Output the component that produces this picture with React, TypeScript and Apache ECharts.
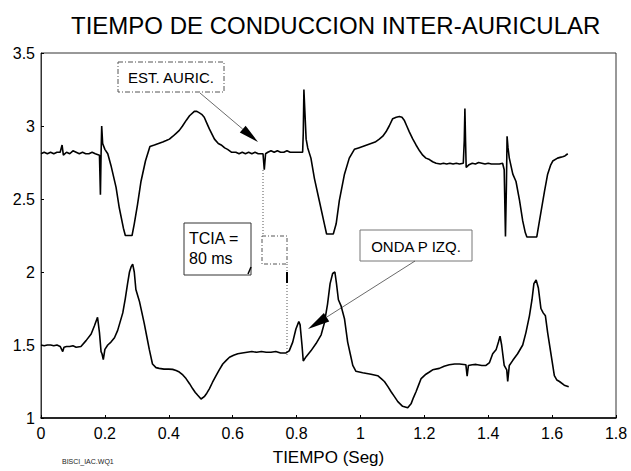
import React, { useEffect, useRef } from "react";
import * as echarts from "echarts";

const titleText = "TIEMPO DE CONDUCCION INTER-AURICULAR";
const xAxisName = "TIEMPO (Seg)";
const fileTag = "BISCI_IAC.WQ1";
const xTicks = [0, 1.8, 0.2];
const yTicks = [1, 3.5, 0.5];

// Upper trace: atrial stimulation channel [time s, value]
const upperTrace: number[][] = [
  [0,2.81],[0.01,2.82],[0.02,2.81],[0.03,2.82],[0.04,2.81],[0.05,2.82],[0.06,2.82],[0.066,2.87],[0.07,2.80],[0.08,2.82],
  [0.09,2.81],[0.10,2.83],[0.11,2.82],[0.12,2.81],[0.13,2.82],[0.14,2.81],[0.15,2.81],[0.16,2.82],[0.17,2.81],[0.183,2.80],
  [0.186,2.53],[0.188,2.80],[0.190,3.00],[0.193,2.88],[0.200,2.84],[0.209,2.81],[0.219,2.73],[0.235,2.58],[0.245,2.44],[0.258,2.30],
  [0.264,2.25],[0.285,2.25],[0.292,2.33],[0.302,2.46],[0.313,2.62],[0.327,2.76],[0.341,2.86],[0.355,2.87],[0.368,2.88],[0.381,2.89],
  [0.392,2.90],[0.402,2.91],[0.413,2.93],[0.423,2.95],[0.433,2.97],[0.443,3.00],[0.455,3.04],[0.465,3.07],[0.480,3.10],[0.488,3.10],
  [0.496,3.09],[0.503,3.08],[0.511,3.06],[0.519,3.02],[0.527,2.98],[0.543,2.91],[0.555,2.88],[0.564,2.87],[0.575,2.85],[0.584,2.84],
  [0.597,2.82],[0.61,2.82],[0.62,2.81],[0.63,2.82],[0.64,2.81],[0.65,2.82],[0.66,2.81],[0.67,2.82],[0.68,2.81],[0.695,2.81],
  [0.699,2.70],[0.703,2.81],[0.71,2.82],[0.72,2.83],[0.73,2.82],[0.74,2.83],[0.75,2.82],[0.76,2.82],[0.77,2.83],[0.78,2.82],
  [0.79,2.82],[0.80,2.82],[0.819,2.82],[0.821,2.95],[0.823,3.25],[0.826,3.10],[0.830,2.91],[0.835,2.85],[0.845,2.78],[0.856,2.64],
  [0.871,2.49],[0.887,2.33],[0.894,2.26],[0.915,2.26],[0.924,2.33],[0.934,2.49],[0.950,2.67],[0.965,2.78],[0.981,2.84],[0.994,2.85],
  [1.007,2.86],[1.02,2.87],[1.033,2.88],[1.046,2.89],[1.059,2.91],[1.070,2.93],[1.080,2.96],[1.090,3.00],[1.101,3.05],[1.112,3.06],
  [1.122,3.065],[1.130,3.06],[1.137,3.04],[1.145,3.00],[1.153,2.96],[1.164,2.91],[1.174,2.87],[1.185,2.83],[1.195,2.80],[1.205,2.78],
  [1.216,2.77],[1.226,2.755],[1.237,2.745],[1.25,2.74],[1.26,2.745],[1.27,2.74],[1.28,2.745],[1.29,2.74],[1.30,2.745],[1.31,2.74],
  [1.322,2.745],[1.325,2.90],[1.327,3.12],[1.329,2.90],[1.331,2.716],[1.34,2.735],[1.35,2.745],[1.36,2.74],[1.37,2.75],[1.38,2.745],
  [1.39,2.74],[1.40,2.745],[1.41,2.74],[1.42,2.74],[1.435,2.74],[1.445,2.745],[1.450,2.70],[1.454,2.243],[1.457,2.60],[1.459,2.93],
  [1.462,2.85],[1.466,2.78],[1.477,2.67],[1.487,2.62],[1.498,2.49],[1.508,2.35],[1.516,2.27],[1.521,2.24],[1.552,2.24],[1.562,2.37],
  [1.576,2.55],[1.586,2.67],[1.595,2.73],[1.602,2.76],[1.617,2.78],[1.625,2.785],[1.633,2.79],[1.640,2.795],[1.649,2.81]
];

// Lower trace: left P wave channel [time s, value]
const lowerTrace: number[][] = [
  [0,1.50],[0.01,1.495],[0.02,1.50],[0.03,1.50],[0.04,1.495],[0.05,1.50],[0.06,1.49],[0.068,1.455],[0.072,1.485],[0.08,1.49],
  [0.09,1.49],[0.10,1.495],[0.11,1.485],[0.125,1.49],[0.141,1.53],[0.157,1.575],[0.167,1.63],[0.177,1.69],[0.183,1.585],[0.188,1.455],
  [0.191,1.44],[0.195,1.40],[0.200,1.47],[0.209,1.50],[0.219,1.52],[0.230,1.55],[0.240,1.60],[0.248,1.66],[0.256,1.72],[0.264,1.82],
  [0.271,1.92],[0.277,2.00],[0.282,2.035],[0.287,2.054],[0.292,2.00],[0.297,1.88],[0.308,1.80],[0.315,1.73],[0.323,1.65],[0.331,1.56],
  [0.339,1.47],[0.349,1.37],[0.360,1.345],[0.370,1.34],[0.385,1.335],[0.400,1.335],[0.412,1.333],[0.423,1.325],[0.433,1.315],[0.444,1.295],
  [0.454,1.27],[0.465,1.235],[0.475,1.20],[0.483,1.175],[0.490,1.157],[0.501,1.13],[0.511,1.146],[0.519,1.17],[0.527,1.20],[0.537,1.245],
  [0.548,1.29],[0.558,1.33],[0.569,1.37],[0.580,1.395],[0.590,1.416],[0.603,1.43],[0.616,1.44],[0.630,1.445],[0.645,1.45],[0.66,1.455],
  [0.675,1.45],[0.69,1.455],[0.705,1.45],[0.72,1.45],[0.735,1.455],[0.75,1.445],[0.767,1.446],[0.777,1.46],[0.788,1.52],[0.798,1.61],
  [0.807,1.66],[0.811,1.64],[0.817,1.50],[0.821,1.39],[0.830,1.42],[0.845,1.46],[0.861,1.51],[0.877,1.57],[0.887,1.65],[0.897,1.78],
  [0.905,1.92],[0.913,1.99],[0.920,2.00],[0.925,1.92],[0.931,1.81],[0.939,1.77],[0.950,1.68],[0.960,1.52],[0.968,1.44],[0.976,1.36],
  [0.986,1.32],[1.007,1.31],[1.02,1.305],[1.033,1.30],[1.054,1.29],[1.065,1.27],[1.075,1.25],[1.086,1.215],[1.096,1.18],[1.107,1.145],
  [1.117,1.112],[1.132,1.08],[1.148,1.07],[1.159,1.10],[1.166,1.14],[1.174,1.18],[1.182,1.225],[1.190,1.27],[1.205,1.30],[1.216,1.315],
  [1.226,1.33],[1.247,1.34],[1.262,1.355],[1.278,1.365],[1.295,1.37],[1.310,1.37],[1.330,1.365],[1.334,1.286],[1.338,1.36],[1.350,1.365],
  [1.362,1.367],[1.380,1.36],[1.393,1.36],[1.404,1.38],[1.414,1.44],[1.425,1.47],[1.432,1.52],[1.437,1.56],[1.442,1.50],[1.450,1.36],
  [1.458,1.33],[1.461,1.25],[1.466,1.36],[1.477,1.395],[1.492,1.44],[1.508,1.50],[1.518,1.585],[1.529,1.70],[1.537,1.81],[1.543,1.92],
  [1.550,1.945],[1.557,1.89],[1.565,1.75],[1.572,1.72],[1.579,1.70],[1.586,1.585],[1.597,1.43],[1.607,1.29],[1.615,1.26],[1.623,1.25],
  [1.638,1.225],[1.652,1.214]
];

const FONT = "'Liberation Sans', Arial, Helvetica, sans-serif";

function arrow(x1: number, y1: number, x2: number, y2: number, headLen: number, headHalf: number) {
  const dx = x2 - x1, dy = y2 - y1;
  const len = Math.sqrt(dx * dx + dy * dy);
  const ux = dx / len, uy = dy / len;
  const bx = x2 - ux * headLen, by = y2 - uy * headLen;
  const px = -uy, py = ux;
  return [
    { type: "line", shape: { x1, y1, x2: bx, y2: by }, style: { stroke: "#444", lineWidth: 0.8 }, silent: true },
    {
      type: "polygon",
      shape: { points: [[x2, y2], [bx + px * headHalf, by + py * headHalf], [bx - px * headHalf, by - py * headHalf]] },
      style: { fill: "#000" },
      silent: true,
    },
  ];
}

export default function App() {
  const ref = useRef<HTMLDivElement>(null);
  useEffect(() => {
    if (!ref.current) return;
    const chart = echarts.init(ref.current, null, { renderer: "svg" });
    const option: any = {
      animation: false,
      backgroundColor: "#fff",
      title: {
        text: titleText,
        left: 66,
        top: 8,
        textStyle: { fontFamily: FONT, fontSize: 24, fontWeight: "normal", color: "#000" },
      },
      grid: { left: 41, right: 15, top: 53, bottom: 48, show: true, borderColor: "#333", borderWidth: 1 },
      xAxis: {
        type: "value",
        min: xTicks[0],
        max: xTicks[1],
        interval: xTicks[2],
        name: xAxisName,
        nameLocation: "middle",
        nameGap: 31,
        nameTextStyle: { fontFamily: FONT, fontSize: 17, color: "#000" },
        axisLine: { show: true, lineStyle: { color: "#000", width: 1.5 } },
        axisTick: { show: true, inside: true, length: 3, lineStyle: { color: "#000" } },
        axisLabel: { fontFamily: FONT, fontSize: 16, color: "#000", margin: 7 },
        splitLine: { show: false },
      },
      yAxis: {
        type: "value",
        min: yTicks[0],
        max: yTicks[1],
        interval: yTicks[2],
        axisLine: { show: true, lineStyle: { color: "#333", width: 1 } },
        axisTick: { show: true, inside: true, length: 3, lineStyle: { color: "#000" } },
        axisLabel: { fontFamily: FONT, fontSize: 16, color: "#000", margin: 6 },
        splitLine: { show: false },
      },
      series: [
        {
          name: "EST. AURIC.",
          type: "line",
          data: upperTrace,
          showSymbol: false,
          lineStyle: { color: "#000", width: 1.6 },
        },
        {
          name: "ONDA P IZQ.",
          type: "line",
          data: lowerTrace,
          showSymbol: false,
          lineStyle: { color: "#000", width: 1.6 },
        },
      ],
      graphic: [
        // EST. AURIC. box
        { type: "rect", shape: { x: 118, y: 62, width: 106, height: 30 }, style: { fill: "#fff", stroke: "#555", lineWidth: 1, lineDash: [5, 2, 1, 2] } },
        { type: "text", x: 171, y: 77, style: { text: "EST. AURIC.", fontFamily: FONT, fontSize: 15, fill: "#000", align: "center", verticalAlign: "middle" } },
        ...arrow(200, 93, 258, 142, 20, 4.5),
        // TCIA box
        { type: "rect", shape: { x: 184, y: 223, width: 67, height: 52 }, style: { fill: "#fff", stroke: "#333", lineWidth: 1 } },
        { type: "text", x: 189, y: 238, style: { text: "TCIA =", fontFamily: FONT, fontSize: 16, fill: "#000", align: "left", verticalAlign: "middle" } },
        { type: "text", x: 189, y: 258, style: { text: "80 ms", fontFamily: FONT, fontSize: 16, fill: "#000", align: "left", verticalAlign: "middle" } },
        // small dashed box
        { type: "rect", shape: { x: 262, y: 236, width: 25, height: 28 }, style: { fill: "none", stroke: "#555", lineWidth: 1, lineDash: [4, 2, 1, 2] } },
        // dotted guide lines
        { type: "line", shape: { x1: 263, y1: 170, x2: 263, y2: 236 }, style: { stroke: "#555", lineWidth: 1, lineDash: [1, 2] } },
        { type: "line", shape: { x1: 287, y1: 264, x2: 287, y2: 357 }, style: { stroke: "#555", lineWidth: 1, lineDash: [1, 2] } },
        { type: "line", shape: { x1: 287, y1: 272, x2: 287, y2: 283 }, style: { stroke: "#000", lineWidth: 2 } },
        { type: "line", shape: { x1: 248, y1: 274, x2: 251, y2: 267 }, style: { stroke: "#000", lineWidth: 1.5 } },
        // ONDA P IZQ. box
        { type: "rect", shape: { x: 360, y: 230, width: 112, height: 31 }, style: { fill: "#fff", stroke: "#777", lineWidth: 1 } },
        { type: "text", x: 416, y: 246, style: { text: "ONDA P IZQ.", fontFamily: FONT, fontSize: 15, fill: "#000", align: "center", verticalAlign: "middle" } },
        ...arrow(415, 261, 308, 329, 22, 5),
        // file tag
        { type: "text", x: 62, y: 461, style: { text: fileTag, fontFamily: FONT, fontSize: 7, fill: "#222", align: "left", verticalAlign: "middle" } },
      ],
    };
    chart.setOption(option);
    return () => chart.dispose();
  }, []);
  return <div ref={ref} style={{ position: "fixed", left: 0, top: 0, width: 631, height: 471 }} />;
}
